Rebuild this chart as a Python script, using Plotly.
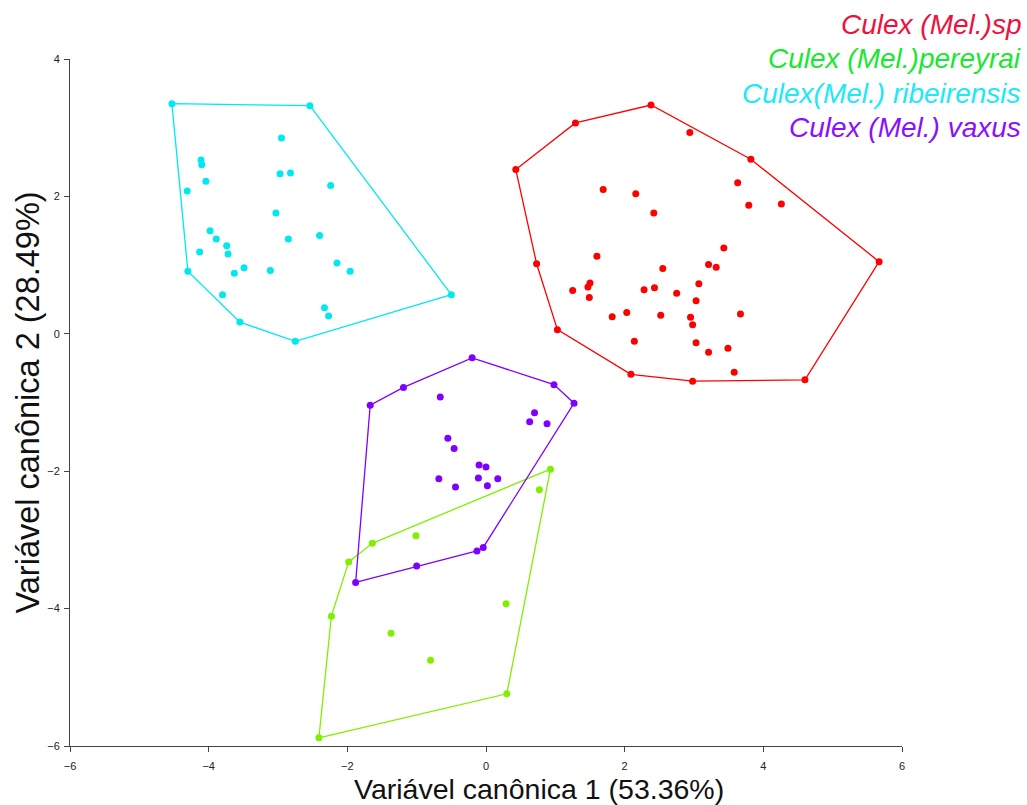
import plotly.graph_objects as go

# ---- data ----
species = ["Culex (Mel.)sp", "Culex (Mel.)pereyrai", "Culex(Mel.) ribeirensis", "Culex (Mel.) vaxus"]

sp_x = [0.43, 1.29, 2.38, 3.82, 5.67, 4.60, 2.98, 2.09, 1.03, 0.73,
        2.94, 3.63, 3.79, 4.26, 1.69, 2.16, 2.42, 3.43, 1.60, 3.21, 3.32, 2.55,
        3.07, 1.50, 1.47, 1.25, 1.49, 2.28, 2.43, 2.75, 3.03, 1.82, 2.03, 2.52,
        2.95, 2.98, 3.67, 2.14, 3.03, 3.21, 3.49, 3.58]
sp_y = [2.39, 3.07, 3.33, 2.54, 1.05, -0.67, -0.69, -0.59, 0.06, 1.02,
        2.93, 2.20, 1.87, 1.89, 2.10, 2.04, 1.76, 1.25, 1.13, 1.01, 0.97, 0.95,
        0.73, 0.74, 0.68, 0.63, 0.53, 0.64, 0.67, 0.59, 0.48, 0.25, 0.31, 0.27,
        0.24, 0.13, 0.29, -0.11, -0.13, -0.27, -0.21, -0.56]

per_x = [0.93, 0.30, -2.41, -2.23, -1.98, -1.64, 0.77, -1.01, 0.29, -1.37, -0.80]
per_y = [-1.97, -5.24, -5.88, -4.11, -3.32, -3.05, -2.27, -2.94, -3.93, -4.36, -4.75]

rib_x = [-4.53, -2.54, -0.50, -2.75, -3.55, -4.30,
         -2.95, -4.11, -4.10, -4.04, -4.31, -2.97, -2.82, -2.24, -3.03, -3.98,
         -3.89, -3.74, -3.72, -4.13, -2.85, -2.40, -3.49, -3.63, -3.11, -2.15,
         -1.96, -3.80, -2.33, -2.27]
rib_y = [3.35, 3.32, 0.57, -0.11, 0.17, 0.91,
         2.85, 2.53, 2.46, 2.22, 2.08, 2.33, 2.34, 2.16, 1.76, 1.50,
         1.38, 1.28, 1.16, 1.19, 1.38, 1.43, 0.96, 0.88, 0.92, 1.03,
         0.91, 0.57, 0.38, 0.26]

vax_x = [-0.20, 0.98, 1.27, -0.04, -0.13, -1.00, -1.88, -1.67, -1.19,
         -0.66, 0.70, 0.63, 0.88, -0.55, -0.46, -0.10, 0.00, -0.68, -0.11,
         0.17, 0.02, -0.44]
vax_y = [-0.35, -0.74, -1.01, -3.11, -3.16, -3.38, -3.62, -1.04, -0.78,
         -0.92, -1.15, -1.28, -1.31, -1.52, -1.67, -1.91, -1.94, -2.11, -2.10,
         -2.11, -2.21, -2.23]

point_colors = ["#FF0000", "#80F000", "#00E8F0", "#8000FF"]
text_colors = ["#F0103C", "#18E830", "#20E8F8", "#8A10FF"]

x_ticks = [-6, -4, -2, 0, 2, 4, 6]
y_ticks = [-6, -4, -2, 0, 2, 4]

x_title = "Variável canônica 1 (53.36%)"
y_title = "Variável canônica 2 (28.49%)"


def convex_hull(xs, ys):
    pts = sorted(set(zip(xs, ys)))
    if len(pts) < 3:
        return pts

    def cross(o, a, b):
        return (a[0] - o[0]) * (b[1] - o[1]) - (a[1] - o[1]) * (b[0] - o[0])

    lower = []
    for p in pts:
        while len(lower) >= 2 and cross(lower[-2], lower[-1], p) <= 0:
            lower.pop()
        lower.append(p)
    upper = []
    for p in reversed(pts):
        while len(upper) >= 2 and cross(upper[-2], upper[-1], p) <= 0:
            upper.pop()
        upper.append(p)
    hull = lower[:-1] + upper[:-1]
    return hull + [hull[0]]


fig = go.Figure()
groups = [(sp_x, sp_y), (per_x, per_y), (rib_x, rib_y), (vax_x, vax_y)]
for (xs, ys), name, col in zip(groups, species, point_colors):
    hull = convex_hull(xs, ys)
    fig.add_trace(go.Scatter(x=[p[0] for p in hull], y=[p[1] for p in hull],
                             mode="lines", line=dict(color=col, width=1.3),
                             showlegend=False, hoverinfo="skip"))
    fig.add_trace(go.Scatter(x=xs, y=ys, mode="markers", name=name,
                             marker=dict(color=col, size=7), showlegend=False))

for i, (name, col) in enumerate(zip(species, text_colors)):
    fig.add_annotation(text=f"<i>{name}</i>", xref="paper", yref="paper",
                       x=1.0, y=1.0, xanchor="right", yanchor="middle",
                       xshift=121, yshift=35 - i * 34.5, showarrow=False,
                       font=dict(family="Liberation Sans, Arial", size=28, color=col))

# axis titles as annotations (positioned like the reference)
fig.add_annotation(text=x_title, xref="paper", yref="paper", x=0.5, y=0,
                   xanchor="center", yanchor="middle", xshift=53, yshift=-43,
                   showarrow=False, borderpad=0,
                   font=dict(family="Liberation Sans, Arial", size=28.5, color="#111"))
fig.add_annotation(text=y_title, xref="paper", yref="paper", x=0, y=0.5,
                   xanchor="center", yanchor="middle", xshift=-43, yshift=0,
                   textangle=-90, showarrow=False, borderpad=0,
                   font=dict(family="Liberation Sans, Arial", size=32.5, color="#111"))

axis_common = dict(showgrid=False, zeroline=False, showline=True, linecolor="#444",
                   linewidth=1, ticks="outside", ticklen=5, tickcolor="#444",
                   tickfont=dict(family="Liberation Sans Narrow, Liberation Sans, Arial",
                                 size=11, color="#222"))

fig.update_layout(
    width=1027, height=805,
    margin=dict(l=70, r=125, t=59, b=59),
    plot_bgcolor="white", paper_bgcolor="white",
    xaxis=dict(range=[-6, 6], tickvals=x_ticks, ticklabelstandoff=5, **axis_common),
    yaxis=dict(range=[-6, 4], tickvals=y_ticks, ticklabelstandoff=2, **axis_common),
)

fig.write_html("out.html")
